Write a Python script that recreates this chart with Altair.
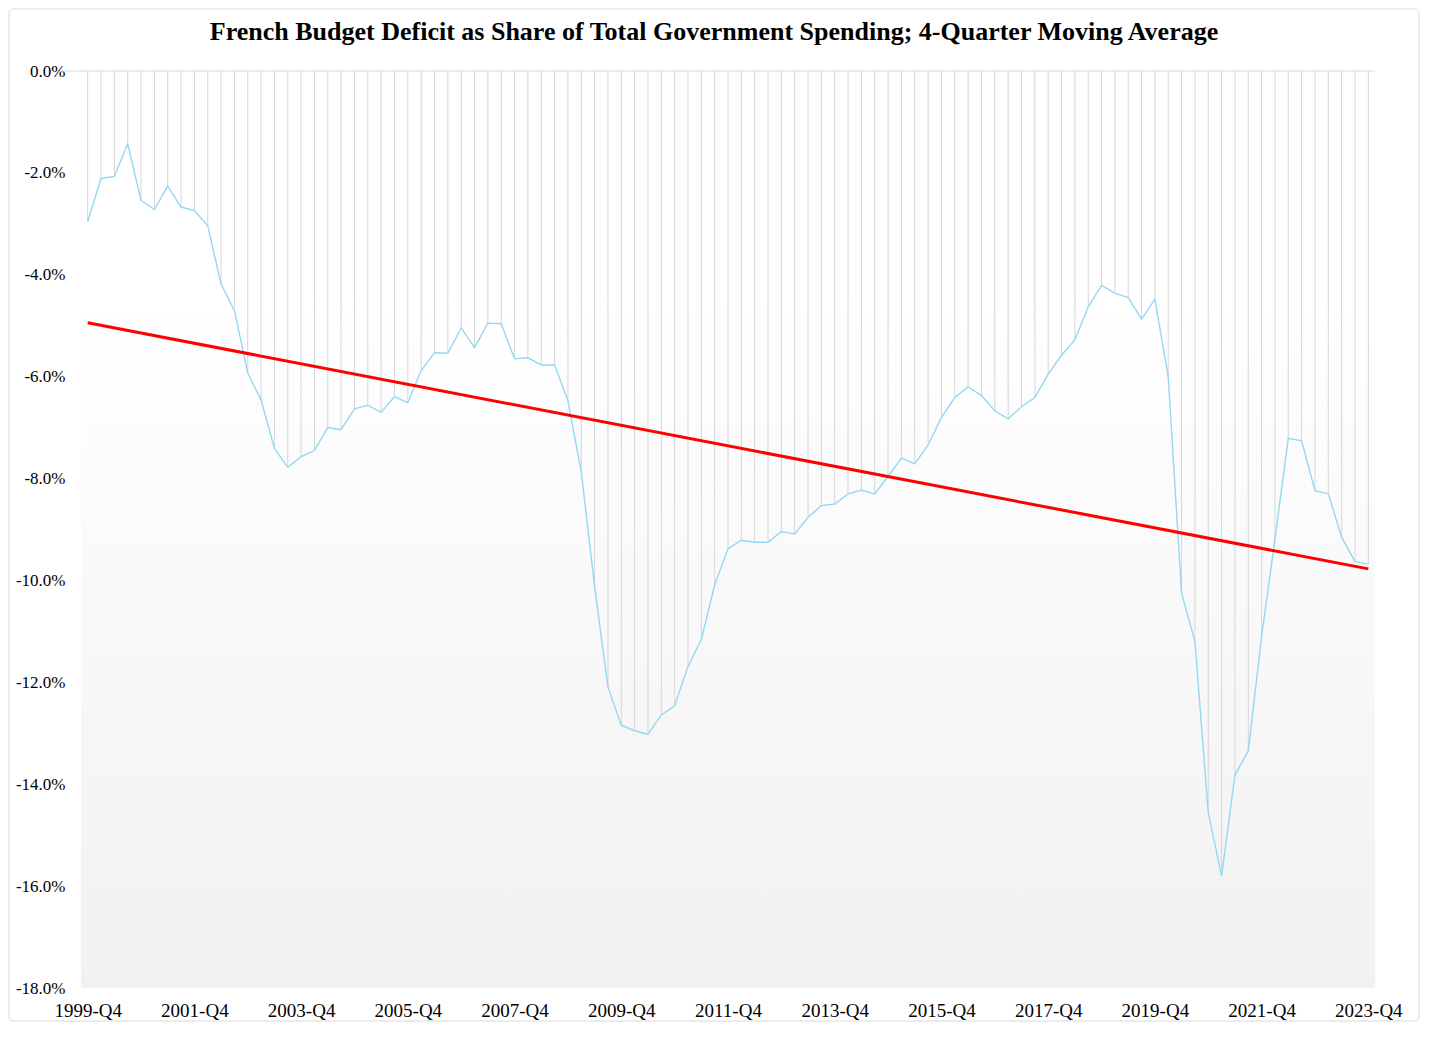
import altair as alt
import pandas as pd

# ---- data ----
START_YEAR = 1999
START_Q = 4
DEFICIT_PCT = [
    -2.96, -2.11, -2.07, -1.43, -2.54, -2.72, -2.26, -2.67, -2.74, -3.04,
    -4.18, -4.70, -5.93, -6.46, -7.41, -7.78, -7.57, -7.45, -7.00, -7.04,
    -6.63, -6.56, -6.70, -6.39, -6.51, -5.88, -5.53, -5.54, -5.04, -5.43,
    -4.95, -4.96, -5.65, -5.63, -5.77, -5.77, -6.47, -7.87, -10.12, -12.09,
    -12.84, -12.95, -13.02, -12.64, -12.46, -11.69, -11.16, -10.09, -9.38, -9.21,
    -9.25, -9.25, -9.04, -9.09, -8.76, -8.53, -8.50, -8.30, -8.23, -8.30,
    -7.96, -7.60, -7.71, -7.34, -6.80, -6.41, -6.20, -6.37, -6.67, -6.83,
    -6.59, -6.41, -5.95, -5.58, -5.28, -4.63, -4.21, -4.36, -4.45, -4.87,
    -4.48, -6.00, -10.25, -11.20, -14.56, -15.80, -13.82, -13.35, -11.10, -9.19,
    -7.21, -7.26, -8.24, -8.30, -9.15, -9.63, -9.68,
]
TICK_LABELS = ["1999-Q4", "2001-Q4", "2003-Q4", "2005-Q4", "2007-Q4", "2009-Q4",
               "2011-Q4", "2013-Q4", "2015-Q4", "2017-Q4", "2019-Q4", "2021-Q4", "2023-Q4"]
Y_TICKS = [0, -2, -4, -6, -8, -10, -12, -14, -16, -18]
TITLE = "French Budget Deficit as Share of Total Government Spending; 4-Quarter Moving Average"

quarters = []
y, q = START_YEAR, START_Q
for _ in DEFICIT_PCT:
    quarters.append(f"{y}-Q{q}")
    q += 1
    if q > 4:
        q, y = 1, y + 1

df = pd.DataFrame({
    "idx": list(range(len(DEFICIT_PCT))),
    "quarter": quarters,
    "val": DEFICIT_PCT,
    "zero": [0.0] * len(DEFICIT_PCT),
})

W, H = 1294, 917
FONT = "Liberation Serif"
n = len(DEFICIT_PCT)

xscale = alt.Scale(domain=[-0.5, n - 0.5], nice=False, zero=False)
yscale = alt.Scale(domain=[-18, 0], nice=False)

label_arr = "[" + ",".join(f"'{t}'" for t in TICK_LABELS) + "]"
step = (n - 1) // (len(TICK_LABELS) - 1)

x_axis = alt.Axis(
    values=list(range(0, n, step)),
    labelExpr=f"{label_arr}[round(datum.value/{step})]",
    domain=False, ticks=False, grid=False, title=None,
    labelFont=FONT, labelFontSize=19, labelColor="#000000", labelPadding=13,
    labelFlush=False,
)
y_axis = alt.Axis(
    values=Y_TICKS,
    labelExpr="(datum.value < 0 ? '-' : '') + format(abs(datum.value), '.1f') + '%'",
    domain=False, ticks=False, grid=False, title=None,
    labelFont=FONT, labelFontSize=17, labelColor="#000000", labelPadding=16,
)

one = pd.DataFrame({"a": [0]})

bg = alt.Chart(one).mark_rect(
    fill=alt.Gradient(
        gradient="linear", x1=0, y1=0, x2=0, y2=1,
        stops=[alt.GradientStop(color="#ffffff", offset=0),
               alt.GradientStop(color="#ffffff", offset=0.25),
               alt.GradientStop(color="#f1f1f1", offset=1)],
    ),
    stroke=None,
).encode(x=alt.value(0), x2=alt.value(W), y=alt.value(0), y2=alt.value(H))

border = alt.Chart(one).mark_rect(
    filled=False, stroke="#d9d9d9", strokeWidth=1, cornerRadius=4
).encode(x=alt.value(-72), x2=alt.value(W + 44), y=alt.value(-62), y2=alt.value(H + 33))

title = alt.Chart(one).mark_text(
    font=FONT, fontSize=26, fontWeight="bold", color="#000000",
    align="center", baseline="middle",
).encode(x=alt.value(714 - 81), y=alt.value(32 - 71), text=alt.value(TITLE))

top_rule = alt.Chart(one).mark_rule(color="#d9d9d9", strokeWidth=1).encode(
    x=alt.value(-21), x2=alt.value(W), y=alt.value(0)
)

drops = alt.Chart(df).mark_rule(color="#d6d6d6", strokeWidth=1).encode(
    x=alt.X("idx:Q", scale=xscale, axis=x_axis),
    y=alt.Y("zero:Q", scale=yscale, axis=y_axis),
    y2="val:Q",
)

line = alt.Chart(df).mark_line(color="#94d8f3", strokeWidth=1.4).encode(
    x=alt.X("idx:Q", scale=xscale),
    y=alt.Y("val:Q", scale=yscale),
)

trend = alt.Chart(df).transform_regression(
    "idx", "val", extent=[0, n - 1]
).mark_line(color="#ff0000", strokeWidth=3).encode(
    x=alt.X("idx:Q", scale=xscale),
    y=alt.Y("val:Q", scale=yscale),
)

chart = alt.layer(bg, border, title, top_rule, drops, line, trend).properties(
    width=W, height=H,
    autosize=alt.AutoSizeParams(type="none"),
    padding={"left": 73, "top": 63, "right": 46, "bottom": 34},
).configure_view(stroke=None)

chart.save("out.html", embed_options={"renderer": "svg", "actions": False})
